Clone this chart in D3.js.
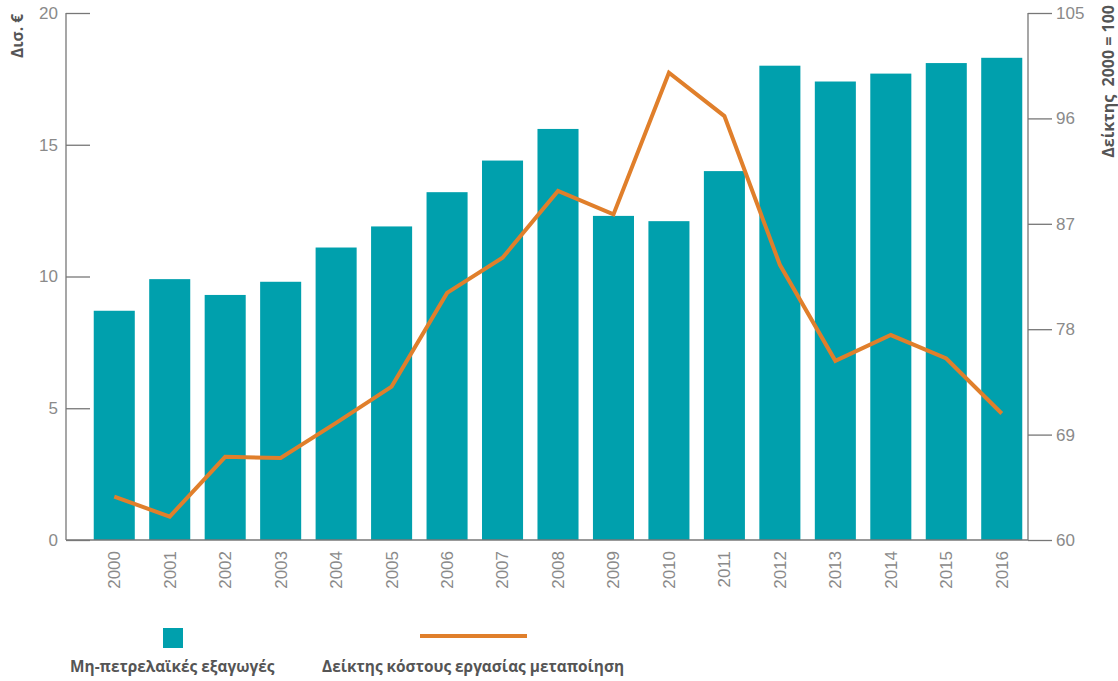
<!DOCTYPE html>
<html><head><meta charset="utf-8">
<script src="https://cdn.jsdelivr.net/npm/d3@7/dist/d3.min.js"></script>
<style>body{margin:0;background:#fff}svg{display:block;font-family:"Open Sans",Lato,sans-serif}</style>
</head><body><svg id="c" width="1118" height="681"></svg>
<script>
const years = ["2000","2001","2002","2003","2004","2005","2006","2007","2008","2009","2010","2011","2012","2013","2014","2015","2016"];
const exportsBn = [8.7,9.9,9.3,9.8,11.1,11.9,13.2,14.4,15.6,12.3,12.1,14.0,18.0,17.4,17.7,18.1,18.3];
const laborIndex = [63.7,62.0,67.1,67.0,70.0,73.1,81.1,84.1,89.8,87.8,99.9,96.2,83.5,75.3,77.5,75.5,70.8];
const leftTicks = [0,5,10,15,20];
const rightTicks = [60,69,78,87,96,105];
const barLabel = "Μη-πετρελαϊκές εξαγωγές";
const lineLabel = "Δείκτης κόστους εργασίας μεταποίηση";
const leftTitle = "Δισ. €";
const rightTitle = "Δείκτης  2000 = 100";

const svg = d3.select("#c");
const L = 66, R = 1028, T = 13, B = 540;
const teal = "#00a0ad", orange = "#e07f2b", axisCol = "#777", txt = "#8a8a8a";

const x = d3.scaleBand().domain(years).range([66, 1050]).paddingInner(0.26).paddingOuter(0.5);
const yL = d3.scaleLinear().domain([0,20]).range([B,T]);
const yR = d3.scaleLinear().domain([60,105]).range([B,T]);

svg.append("g").selectAll("rect").data(years).join("rect")
  .attr("x", d => x(d)).attr("width", x.bandwidth())
  .attr("y", (d,i) => yL(exportsBn[i])).attr("height", (d,i) => B - yL(exportsBn[i]))
  .attr("fill", teal);

const gl = svg.append("g").attr("transform", `translate(${L},0)`)
  .call(d3.axisRight(yL).tickValues(leftTicks).tickSize(24).tickFormat(d3.format("d")));
gl.select(".domain").attr("stroke", axisCol).attr("stroke-width",1.3).attr("d", `M0,${T}V${B}`);
gl.selectAll(".tick line").attr("stroke", axisCol).attr("stroke-width",1.3);
gl.selectAll(".tick text").attr("x", -8).attr("text-anchor","end").attr("fill", txt)
  .style("font-size","17px").style("font-weight",300);

const gr = svg.append("g").attr("transform", `translate(${R},0)`)
  .call(d3.axisRight(yR).tickValues(rightTicks).tickSize(24).tickFormat(d3.format("d")));
gr.select(".domain").attr("stroke", axisCol).attr("stroke-width",1.3).attr("d", `M0,${T}V${B}`);
gr.selectAll(".tick line").attr("stroke", axisCol).attr("stroke-width",1.3);
gr.selectAll(".tick text").attr("x", 28).attr("fill", txt)
  .style("font-size","17px").style("font-weight",300);

const gx = svg.append("g").attr("transform", `translate(0,${B})`)
  .call(d3.axisBottom(x).tickSize(0));
gx.select(".domain").attr("stroke", axisCol).attr("stroke-width",1.3).attr("d", `M${L},0H${R}`);
gx.selectAll(".tick text").attr("transform","rotate(-90)").attr("x",-11).attr("y",0)
  .attr("dy","0.35em").attr("text-anchor","end").attr("fill", txt)
  .style("font-size","17px").style("font-weight",300);

const line = d3.line().x((d,i) => x(years[i]) + x.bandwidth()/2).y(d => yR(d));
svg.append("path").datum(laborIndex).attr("d", line).attr("fill","none")
  .attr("stroke", orange).attr("stroke-width",4).attr("stroke-linejoin","miter");

svg.append("text").attr("transform","translate(23,14) rotate(-90)").attr("text-anchor","end")
  .attr("fill","#555").style("font-size","15.5px").style("font-weight",700).text(leftTitle);
svg.append("text").attr("transform","translate(1114,5) rotate(-90)").attr("text-anchor","end")
  .attr("fill","#555").style("font-size","16px").style("font-weight",700).style("white-space","pre").text(rightTitle);

svg.append("rect").attr("x",163).attr("y",628).attr("width",20).attr("height",20).attr("fill",teal);
svg.append("line").attr("x1",420).attr("x2",527).attr("y1",636).attr("y2",636)
  .attr("stroke",orange).attr("stroke-width",4);
svg.append("text").attr("x",70).attr("y",672).attr("fill","#555")
  .style("font-size","15.4px").style("font-weight",700).text(barLabel);
svg.append("text").attr("x",322).attr("y",672).attr("fill","#555")
  .style("font-size","15.4px").style("font-weight",700).text(lineLabel);
</script></body></html>
